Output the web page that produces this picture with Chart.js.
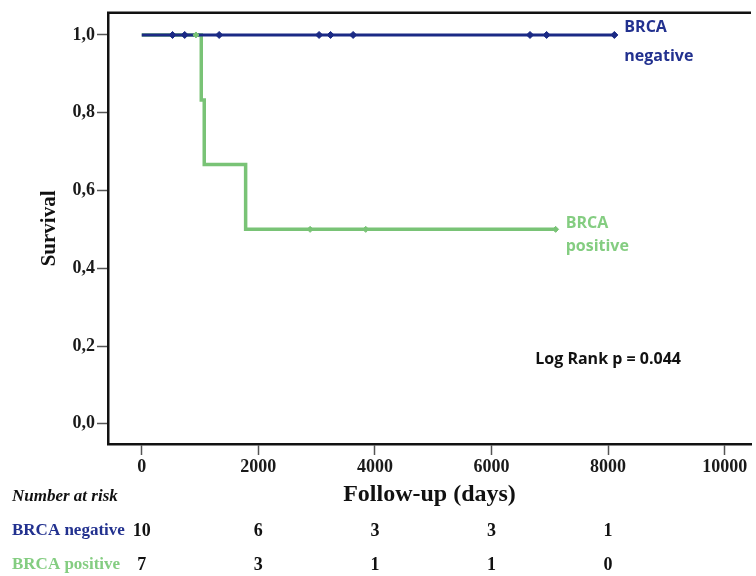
<!DOCTYPE html>
<html>
<head>
<meta charset="utf-8">
<script src="https://cdn.jsdelivr.net/npm/chart.js@4.4.0/dist/chart.umd.min.js"></script>
<style>
  html, body { margin: 0; padding: 0; background: #fff; }
</style>
</head>
<body>
<canvas id="km" width="756" height="576"></canvas>
<script>
// Kaplan-Meier steps (time in days, survival)
var negTimes = [0, 8107];
var negSurv = [1, 1];
var posTimes = [0, 1021, 1072, 1782, 7100];
var posSurv = [1, 0.833, 0.667, 0.5, 0.5];

// censored observations
var negCensorTimes = [528, 737, 1328, 3042, 3239, 3626, 6660, 6945, 8107];
var negCensorSurv = [1, 1, 1, 1, 1, 1, 1, 1, 1];
var posCensorTimes = [930, 2888, 3842, 7100];
var posCensorSurv = [1, 0.5, 0.5, 0.5];

// number at risk table
var riskTimes = [0, 2000, 4000, 6000, 8000];
var riskNeg = [10, 6, 3, 3, 1];
var riskPos = [7, 3, 1, 1, 0];

var xTicks = [0, 2000, 4000, 6000, 8000, 10000];
var yTicks = [0, 0.2, 0.4, 0.6, 0.8, 1.0];

var blue = "#1b2a85";
var green = "#79c376";
var blueText = "#22318f";
var greenText = "#84cd81";

function pts(xs, ys) {
  var out = [];
  for (var i = 0; i < xs.length; i++) out.push({ x: xs[i], y: ys[i] });
  return out;
}

var serif = "'Liberation Serif', 'Times New Roman', serif";
var sans = "'Open Sans', 'Noto Sans', sans-serif";

var extras = {
  id: "extras",
  afterDraw: function (chart) {
    var ctx = chart.ctx;
    var xs = chart.scales.x;
    var ys = chart.scales.y;
    var area = chart.chartArea;
    ctx.save();
    // top frame line
    ctx.strokeStyle = "#111";
    ctx.lineWidth = 2.5;
    ctx.beginPath();
    ctx.moveTo(area.left - 1, area.top);
    ctx.lineTo(area.right, area.top);
    ctx.stroke();

    // curve labels
    ctx.font = "bold 16px " + sans;
    ctx.textAlign = "left";
    ctx.textBaseline = "middle";
    var nx = xs.getPixelForValue(negTimes[negTimes.length - 1]) + 10;
    var ny = ys.getPixelForValue(negSurv[negSurv.length - 1]);
    ctx.fillStyle = blueText;
    ctx.fillText("BRCA", nx, ny - 8);
    ctx.fillText("negative", nx, ny + 21);
    var px = xs.getPixelForValue(posTimes[posTimes.length - 1]) + 10;
    var py = ys.getPixelForValue(posSurv[posSurv.length - 1]);
    ctx.fillStyle = greenText;
    ctx.fillText("BRCA", px, py - 6);
    ctx.fillText("positive", px, py + 17);

    ctx.fillStyle = "#111";
    ctx.font = "bold 16px " + sans;
    ctx.fillText("Log Rank p = 0.044", xs.getPixelForValue(6750), ys.getPixelForValue(0.166));

    // number at risk
    ctx.font = "italic bold 17px " + serif;
    ctx.fillStyle = "#111";
    ctx.fillText("Number at risk", 12, 497);
    ctx.font = "bold 17px " + serif;
    ctx.fillStyle = blueText;
    ctx.fillText("BRCA negative", 12, 531);
    ctx.fillStyle = greenText;
    ctx.fillText("BRCA positive", 12, 565);
    ctx.textAlign = "center";
    ctx.fillStyle = "#111";
    ctx.font = "bold 18px " + serif;
    for (var i = 0; i < riskTimes.length; i++) {
      var tx = xs.getPixelForValue(riskTimes[i]);
      ctx.fillText(String(riskNeg[i]), tx, 531);
      ctx.fillText(String(riskPos[i]), tx, 565);
    }
    ctx.restore();
  }
};

var ctx = document.getElementById("km").getContext("2d");
var chart = new Chart(ctx, {
  type: "line",
  data: {
    datasets: [
      {
        label: "BRCA negative",
        data: pts(negTimes, negSurv),
        borderColor: blue,
        borderWidth: 3,
        stepped: "before",
        pointRadius: 0,
        order: 1
      },
      {
        label: "BRCA positive",
        data: pts(posTimes, posSurv),
        borderColor: green,
        borderWidth: 3.5,
        stepped: "before",
        pointRadius: 0,
        order: 2
      },
      {
        label: "neg censored",
        data: pts(negCensorTimes, negCensorSurv),
        showLine: false,
        pointStyle: "rectRot",
        pointRadius: 3.5,
        pointBackgroundColor: blue,
        pointBorderColor: blue,
        order: 0
      },
      {
        label: "pos censored",
        data: pts(posCensorTimes, posCensorSurv),
        showLine: false,
        pointStyle: "rectRot",
        pointRadius: 3,
        pointBackgroundColor: green,
        pointBorderColor: green,
        order: 0
      }
    ]
  },
  options: {
    responsive: false,
    animation: false,
    devicePixelRatio: 1,
    layout: { padding: { top: 12, left: 0, right: 0, bottom: 0 } },
    plugins: {
      legend: { display: false },
      tooltip: { enabled: false }
    },
    scales: {
      x: {
        type: "linear",
        min: -579,
        max: 10451,
        afterBuildTicks: function (s) { s.ticks = xTicks.map(function (v) { return { value: v }; }); },
        afterFit: function (s) { s.height = 132; },
        grid: { drawOnChartArea: false, tickLength: 11, tickColor: "#555", tickWidth: 1.5 },
        border: { display: true, color: "#111", width: 2.5 },
        ticks: {
          padding: 2,
          color: "#1a1a1a",
          font: { family: serif, size: 18, weight: "bold" },
          maxRotation: 0,
          callback: function (v) { return String(v); }
        },
        title: {
          display: true,
          text: "Follow-up (days)",
          color: "#111",
          font: { family: serif, size: 24, weight: "bold" },
          padding: { top: 0, bottom: 67 }
        }
      },
      y: {
        type: "linear",
        min: -0.052,
        max: 1.057,
        afterBuildTicks: function (s) { s.ticks = yTicks.map(function (v) { return { value: v }; }); },
        afterFit: function (s) { s.width = 108; },
        grid: { drawOnChartArea: false, tickLength: 11, tickColor: "#555", tickWidth: 1.5 },
        border: { display: true, color: "#111", width: 2.5 },
        ticks: {
          padding: 2,
          color: "#1a1a1a",
          font: { family: serif, size: 18, weight: "bold" },
          callback: function (v) { return v.toFixed(1).replace(".", ","); }
        },
        title: {
          display: true,
          text: "Survival",
          color: "#111",
          font: { family: serif, size: 21, weight: "bold" },
          padding: { top: 37, bottom: 0 }
        }
      }
    }
  },
  plugins: [extras]
});
</script>
</body>
</html>
